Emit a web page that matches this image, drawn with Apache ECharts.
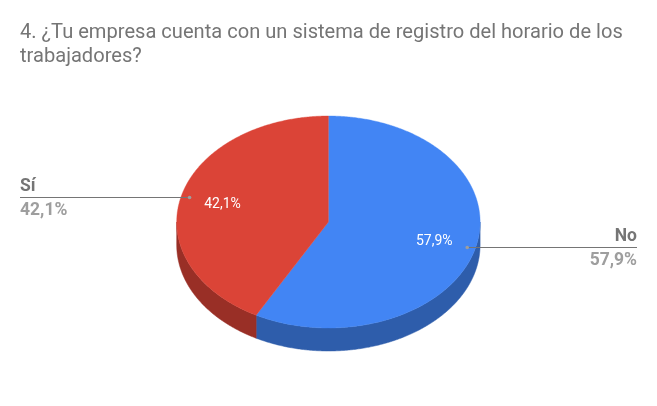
<!DOCTYPE html>
<html>
<head>
<meta charset="utf-8">
<style>html,body{margin:0;padding:0;background:#fff}#c{width:657px;height:406px}</style>
<script src="https://cdn.jsdelivr.net/npm/echarts@6/dist/echarts.min.js"></script>
</head>
<body>
<div id="c"></div>
<script>
const titleText = '4. ¿Tu empresa cuenta con un sistema de registro del horario de los\ntrabajadores?';
const categories = ['No', 'Sí'];
const percentages = [57.9, 42.1];
const topColors = ['#4285f4', '#db4437'];
const sideColors = ['#2e5dab', '#992f26'];

const FONT = 'Roboto';
const cx = 328.4, cy = 222, rx = 151.7, ry = 106, depth = 23;
const total = percentages.reduce((a, b) => a + b, 0);
const fmt = v => v.toFixed(1).replace('.', ',') + '%';
const pt = (deg, f = 1, dy = 0) => {
  const a = deg * Math.PI / 180;
  return [cx + rx * f * Math.sin(a), cy - ry * f * Math.cos(a) + dy];
};
const arc = (s, e) => {
  const out = [], n = Math.max(2, Math.ceil((e - s) * 2));
  for (let i = 0; i <= n; i++) out.push(pt(s + (e - s) * i / n));
  return out;
};

function renderSlice(params, api) {
  const i = params.dataIndex;
  let start = 0;
  for (let k = 0; k < i; k++) start += percentages[k] / total * 360;
  const end = start + api.value(1) / total * 360;
  const mid = (start + end) / 2;
  const children = [];

  // visible side wall: the part of the arc in the front half (90°..270°)
  const sS = Math.max(start, 90), sE = Math.min(end, 270);
  if (sE > sS) {
    const upper = arc(sS, sE);
    const lower = upper.slice().reverse().map(p => [p[0], p[1] + depth]);
    children.push({ type: 'polygon', z2: 1, shape: { points: upper.concat(lower) },
      style: { fill: sideColors[i], stroke: sideColors[i], lineWidth: 0.5 } });
  }
  // top face
  children.push({ type: 'polygon', z2: 2, shape: { points: [[cx, cy]].concat(arc(start, end)) },
    style: { fill: topColors[i], stroke: topColors[i], lineWidth: 0.4 } });

  // inner label
  const lp = pt(mid, 0.72);
  children.push({ type: 'text', z2: 5, style: { text: fmt(api.value(1)), x: lp[0], y: lp[1] + 1,
    fill: '#ffffff', fontFamily: FONT, fontSize: 14, align: 'center', verticalAlign: 'middle' } });

  // leader line, anchor dot, outer labels
  const dp = pt(mid, 0.944);
  const y = Math.round(dp[1]) + 0.5;
  const right = dp[0] > cx;
  const edgeX = right ? 637 : 20;
  children.push({ type: 'line', z2: 4, shape: { x1: dp[0], y1: y, x2: edgeX, y2: y },
    style: { stroke: '#757575', lineWidth: 1 } });
  children.push({ type: 'circle', z2: 5, shape: { cx: dp[0], cy: y, r: 1.8 },
    style: { fill: '#9e9e9e' } });
  const align = right ? 'right' : 'left';
  children.push({ type: 'text', z2: 5, style: { text: categories[i], x: edgeX, y: y - 2,
    fill: '#757575', fontFamily: FONT, fontSize: 17.5, fontWeight: 'bold', align, verticalAlign: 'bottom' } });
  children.push({ type: 'text', z2: 5, style: { text: fmt(api.value(1)), x: edgeX, y: y + 4,
    fill: '#9e9e9e', fontFamily: FONT, fontSize: 17.5, fontWeight: 'bold', align, verticalAlign: 'top' } });
  return { type: 'group', children };
}

const chart = echarts.init(document.getElementById('c'), null, { renderer: 'canvas' });
chart.setOption({
  animation: false,
  backgroundColor: '#ffffff',
  title: { text: titleText, left: 20, top: 21, padding: 0,
    textStyle: { color: '#757575', fontFamily: FONT, fontSize: 20.1, fontWeight: 'normal', lineHeight: 24 } },
  series: [{
    type: 'custom',
    coordinateSystem: 'none',
    renderItem: renderSlice,
    data: categories.map((c, i) => ({ name: c, value: [i, percentages[i]] })),
    silent: true
  }]
});
</script>
</body>
</html>
